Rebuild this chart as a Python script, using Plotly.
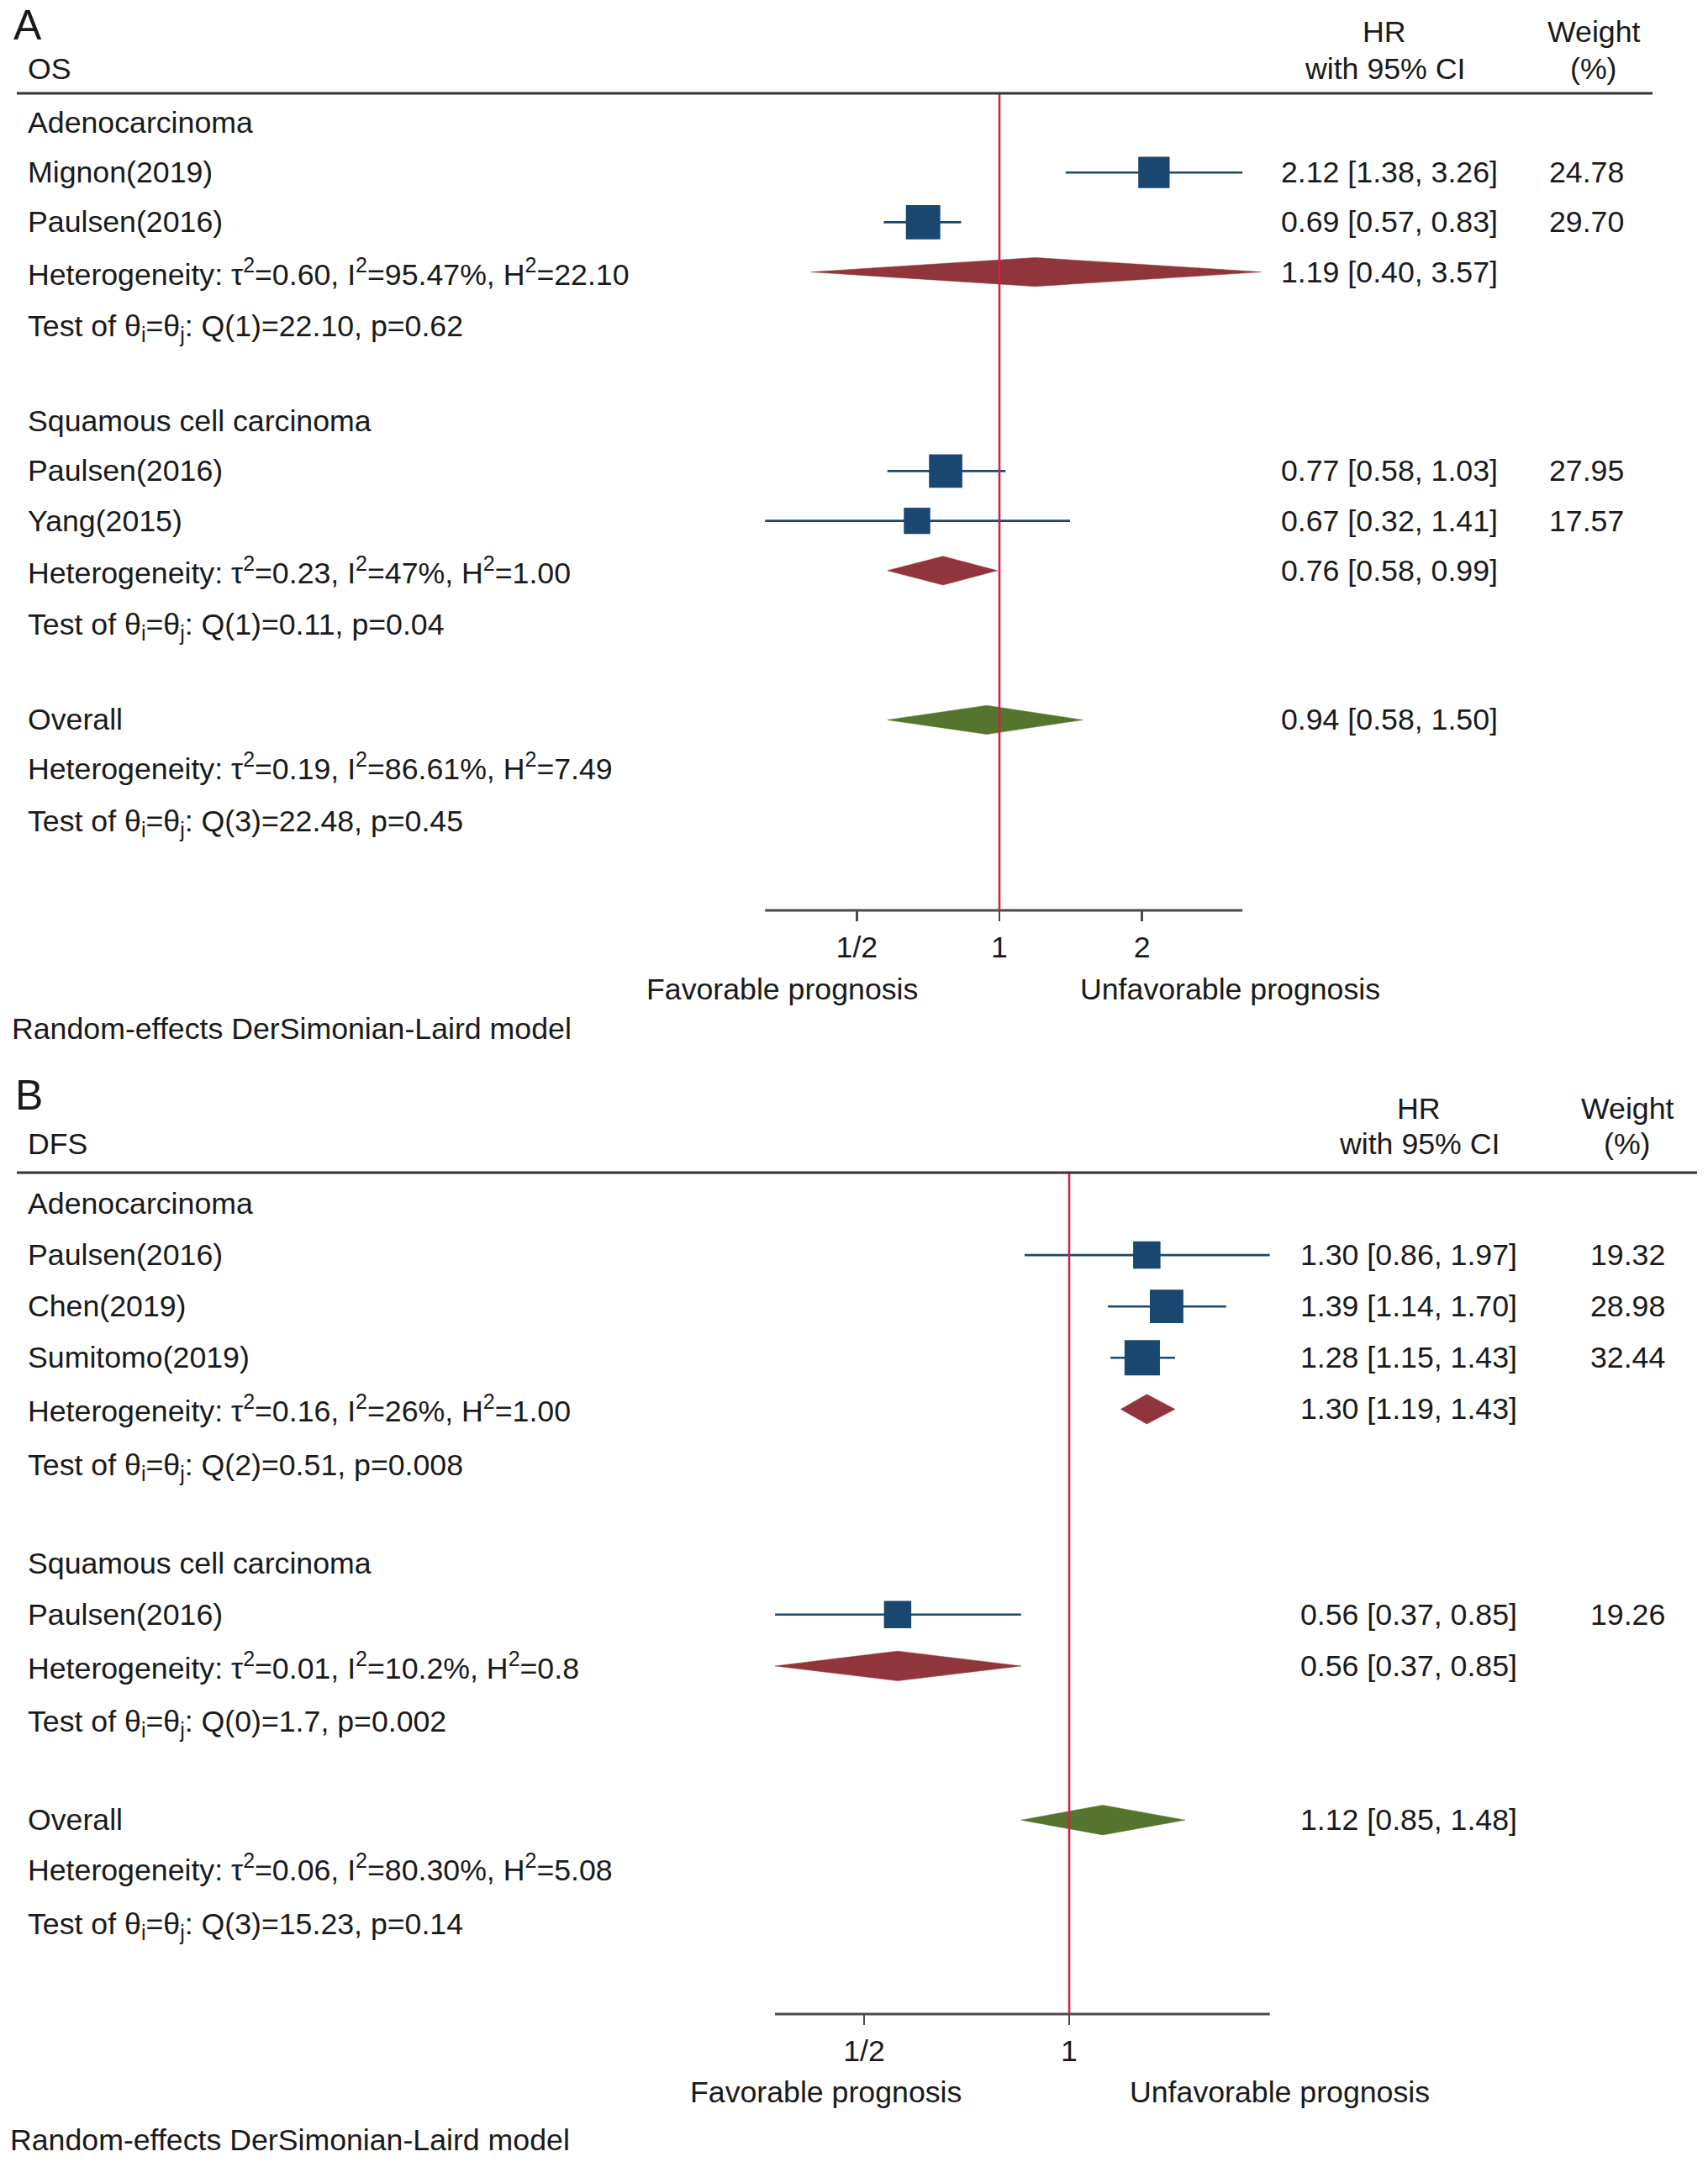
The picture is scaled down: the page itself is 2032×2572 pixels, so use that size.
import math
import plotly.graph_objects as go

W, H = 2032, 2572
FONT = "Liberation Sans, Arial, Helvetica, sans-serif"
FS = 35.7
TXT = "#1a1a1a"
NAVY = "#1a476f"
MAROON = "#90353b"
GREEN = "#55752f"
REFRED = "#d0214b"
AXISC = "#4a4a4a"

# ---------------- Panel A: OS ----------------
os_groups = ["Adenocarcinoma", "Squamous cell carcinoma"]
os_study = [["Mignon(2019)", "Paulsen(2016)"], ["Paulsen(2016)", "Yang(2015)"]]
os_hr = [[2.12, 0.69], [0.77, 0.67]]
os_lo = [[1.38, 0.57], [0.58, 0.32]]
os_hi = [[3.26, 0.83], [1.03, 1.41]]
os_wt = [[24.78, 29.70], [27.95, 17.57]]
os_sub_hr = [1.19, 0.76]
os_sub_lo = [0.40, 0.58]
os_sub_hi = [3.57, 0.99]
os_het = [("0.60", "95.47%", "22.10"), ("0.23", "47%", "1.00")]
os_test = [("1", "22.10", "0.62"), ("1", "0.11", "0.04")]
os_all = (0.94, 0.58, 1.50)
os_all_het = ("0.19", "86.61%", "7.49")
os_all_test = ("3", "22.48", "0.45")

# ---------------- Panel B: DFS ----------------
dfs_groups = ["Adenocarcinoma", "Squamous cell carcinoma"]
dfs_study = [["Paulsen(2016)", "Chen(2019)", "Sumitomo(2019)"], ["Paulsen(2016)"]]
dfs_hr = [[1.30, 1.39, 1.28], [0.56]]
dfs_lo = [[0.86, 1.14, 1.15], [0.37]]
dfs_hi = [[1.97, 1.70, 1.43], [0.85]]
dfs_wt = [[19.32, 28.98, 32.44], [19.26]]
dfs_sub_hr = [1.30, 0.56]
dfs_sub_lo = [1.19, 0.37]
dfs_sub_hi = [1.43, 0.85]
dfs_het = [("0.16", "26%", "1.00"), ("0.01", "10.2%", "0.8")]
dfs_test = [("2", "0.51", "0.008"), ("0", "1.7", "0.002")]
dfs_all = (1.12, 0.85, 1.48)
dfs_all_het = ("0.06", "80.30%", "5.08")
dfs_all_test = ("3", "15.23", "0.14")

os_tick_vals = [0.5, 1, 2]
os_tick_text = ["1/2", "1", "2"]
dfs_tick_vals = [0.5, 1]
dfs_tick_text = ["1/2", "1"]


def het_text(h):
    return ("Heterogeneity: τ<sup>2</sup>=%s, I<sup>2</sup>=%s, H<sup>2</sup>=%s" % h)


def test_text(t):
    return ("Test of θ<sub>i</sub>=θ<sub>j</sub>: Q(%s)=%s, p=%s" % t)


def ci_text(e, l, h):
    return "%.2f [%.2f, %.2f]" % (e, l, h)


panels = [
    dict(key="", letter="A", outcome="OS", groups=os_groups, study=os_study, hr=os_hr,
         lo=os_lo, hi=os_hi, wt=os_wt, sub_hr=os_sub_hr, sub_lo=os_sub_lo, sub_hi=os_sub_hi,
         het=os_het, test=os_test, all=os_all, all_het=os_all_het, all_test=os_all_test,
         tv=os_tick_vals, tt=os_tick_text,
         top_px=0, bottom_px=1083, row0=146, sp=59.2, ref_px=1189, per_dbl=169.6,
         hline_px=111, hline_x1=1966, hr_x=1784, wt_x=1841, hr_head_x=1647,
         wt_head_x=1896, head1_y=38, head2_y=82, letter_x=14, letter_y=30, text_x=31,
         fav_x=930, unfav_x=1463, fav_y=1177, model_x=12, model_y=1224, sq=7.5),
    dict(key="2", letter="B", outcome="DFS", groups=dfs_groups, study=dfs_study, hr=dfs_hr,
         lo=dfs_lo, hi=dfs_hi, wt=dfs_wt, sub_hr=dfs_sub_hr, sub_lo=dfs_sub_lo, sub_hi=dfs_sub_hi,
         het=dfs_het, test=dfs_test, all=dfs_all, all_het=dfs_all_het, all_test=dfs_all_test,
         tv=dfs_tick_vals, tt=dfs_tick_text,
         top_px=1280, bottom_px=2396, row0=1432, sp=61.1, ref_px=1272, per_dbl=244,
         hline_px=1395, hline_x1=2019, hr_x=1807, wt_x=1890, hr_head_x=1688,
         wt_head_x=1936, head1_y=1319, head2_y=1361, letter_x=16, letter_y=1303, text_x=31,
         fav_x=982, unfav_x=1522, fav_y=2489, model_x=10, model_y=2546, sq=7.4),
]

fig = go.Figure()
annotations = []
shapes = []


def px_x(p):
    return p / W


def px_y(p):
    return 1 - p / H


def ann(x, y, text, xanchor="left", size=FS, yref="paper", yshift=0):
    annotations.append(dict(x=x, y=y, xref="paper", yref=yref, text=text, showarrow=False,
                            xanchor=xanchor, yanchor="middle", yshift=yshift,
                            font=dict(family=FONT, size=size, color=TXT)))


DH = 0.29  # diamond half height in row units

for P in panels:
    xa = "x" + P["key"]
    ya = "y" + P["key"]
    yref = ya
    row = 0
    left_rows = []
    hr_rows = []
    wt_rows = []
    st_y, st_x, st_lo, st_hi, st_w = [], [], [], [], []
    diamonds = []
    for g in range(len(P["groups"])):
        left_rows.append((row, P["groups"][g], 0))
        row += 1
        for s in range(len(P["study"][g])):
            left_rows.append((row, P["study"][g][s], 0))
            hr_rows.append((row, ci_text(P["hr"][g][s], P["lo"][g][s], P["hi"][g][s])))
            wt_rows.append((row, "%.2f" % P["wt"][g][s]))
            st_y.append(-row)
            st_x.append(P["hr"][g][s])
            st_lo.append(P["lo"][g][s])
            st_hi.append(P["hi"][g][s])
            st_w.append(P["wt"][g][s])
            row += 1
        left_rows.append((row, het_text(P["het"][g]), 0))
        hr_rows.append((row, ci_text(P["sub_hr"][g], P["sub_lo"][g], P["sub_hi"][g])))
        diamonds.append((-row, P["sub_hr"][g], P["sub_lo"][g], P["sub_hi"][g], MAROON))
        row += 1
        left_rows.append((row, test_text(P["test"][g]), -7))
        row += 2
    left_rows.append((row, "Overall", 0))
    hr_rows.append((row, ci_text(*P["all"])))
    diamonds.append((-row, P["all"][0], P["all"][1], P["all"][2], GREEN))
    row += 1
    left_rows.append((row, het_text(P["all_het"]), 4))
    row += 1
    left_rows.append((row, test_text(P["all_test"]), -4))

    # CI lines
    lx, ly = [], []
    for yv, l, h in zip(st_y, st_lo, st_hi):
        lx += [l, h, None]
        ly += [yv, yv, None]
    fig.add_trace(go.Scatter(x=lx, y=ly, mode="lines", xaxis=xa, yaxis=ya,
                             line=dict(color=NAVY, width=2.6), hoverinfo="skip",
                             showlegend=False))
    # squares (area proportional to weight)
    fig.add_trace(go.Scatter(x=st_x, y=st_y, mode="markers", xaxis=xa, yaxis=ya,
                             marker=dict(symbol="square", color=NAVY, opacity=1,
                                         size=[P["sq"] * math.sqrt(w) for w in st_w],
                                         line=dict(width=0)),
                             showlegend=False))
    # diamonds
    for yv, e, l, h, col in diamonds:
        fig.add_trace(go.Scatter(x=[l, e, h, e, l], y=[yv, yv + DH, yv, yv - DH, yv],
                                 mode="lines", fill="toself", fillcolor=col,
                                 line=dict(color=col, width=0.5), xaxis=xa, yaxis=ya,
                                 hoverinfo="skip", showlegend=False))

    # axes
    sp = P["sp"]
    ytop = (P["row0"] - P["top_px"]) / sp
    ybot = -(P["bottom_px"] - P["row0"]) / sp
    l2 = math.log10(2)
    xmin = -P["ref_px"] / P["per_dbl"] * l2
    xmax = (W - P["ref_px"]) / P["per_dbl"] * l2
    axx = dict(type="log", range=[xmin, xmax], domain=[0, 1], anchor=ya,
               showgrid=False, zeroline=False, showline=False,
               tickvals=P["tv"], ticktext=P["tt"],
               ticks="outside", ticklen=12, tickwidth=2.2, tickcolor=AXISC,
               ticklabelstandoff=0,
               tickfont=dict(family=FONT, size=FS, color=TXT), fixedrange=True)
    axy = dict(range=[ybot, ytop], domain=[px_y(P["bottom_px"]), px_y(P["top_px"])],
               anchor=xa, visible=False, fixedrange=True)
    fig.layout["xaxis" + P["key"]] = axx
    fig.layout["yaxis" + P["key"]] = axy

    # axis baseline spanning the study CI range
    shapes.append(dict(type="line", xref=xa, yref="paper", x0=min(st_lo), x1=max(st_hi),
                       y0=px_y(P["bottom_px"]), y1=px_y(P["bottom_px"]),
                       line=dict(color=AXISC, width=3)))
    # reference line at HR = 1
    shapes.append(dict(type="line", xref=xa, yref="paper", x0=1, x1=1,
                       y0=px_y(P["bottom_px"]), y1=px_y(P["hline_px"]),
                       line=dict(color=REFRED, width=2.6)))
    # header rule
    shapes.append(dict(type="line", xref="paper", yref="paper", x0=px_x(20),
                       x1=px_x(P["hline_x1"]), y0=px_y(P["hline_px"]),
                       y1=px_y(P["hline_px"]), line=dict(color="#333333", width=3)))

    # texts
    ann(px_x(P["letter_x"]), px_y(P["letter_y"]), P["letter"], size=50)
    ann(px_x(P["text_x"]), px_y(P["head2_y"]), P["outcome"])
    ann(px_x(P["hr_head_x"]), px_y(P["head1_y"]), "HR", xanchor="center")
    ann(px_x(P["hr_head_x"]), px_y(P["head2_y"]), "with 95% CI", xanchor="center")
    ann(px_x(P["wt_head_x"]), px_y(P["head1_y"]), "Weight", xanchor="center")
    ann(px_x(P["wt_head_x"]), px_y(P["head2_y"]), "(%)", xanchor="center")
    for r, t, ys in left_rows:
        ann(px_x(P["text_x"]), -r, t, yref=yref, yshift=ys)
    for r, t in hr_rows:
        ann(px_x(P["hr_x"]), -r, t, xanchor="right", yref=yref)
    for r, t in wt_rows:
        ann(px_x(P["wt_x"]), -r, t, yref=yref)
    ann(px_x(P["fav_x"]), px_y(P["fav_y"]), "Favorable prognosis", xanchor="center")
    ann(px_x(P["unfav_x"]), px_y(P["fav_y"]), "Unfavorable prognosis", xanchor="center")
    ann(px_x(P["model_x"]), px_y(P["model_y"]), "Random-effects DerSimonian-Laird model")

fig.update_layout(width=W, height=H, margin=dict(l=0, r=0, t=0, b=0),
                  paper_bgcolor="white", plot_bgcolor="rgba(0,0,0,0)",
                  showlegend=False, annotations=annotations, shapes=shapes,
                  font=dict(family=FONT, size=FS, color=TXT))

fig.write_html("out.html", config={"staticPlot": True},
               post_script="document.body.style.margin='0px';document.body.style.overflow='hidden';")
